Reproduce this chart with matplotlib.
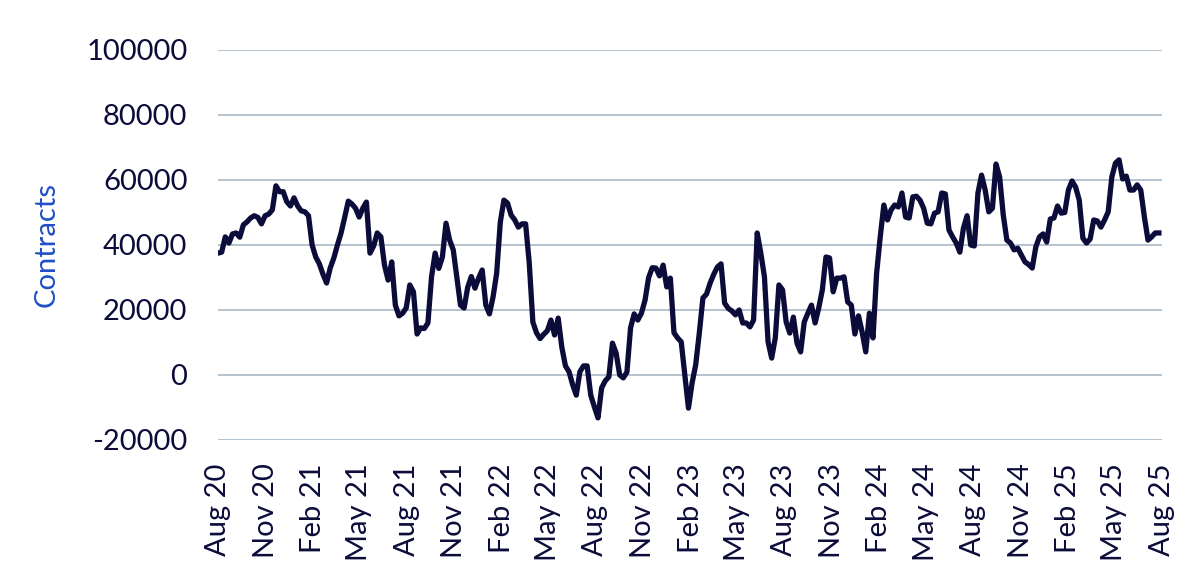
import matplotlib.pyplot as plt
import pandas as pd

# weekly net positions
first_week = "2020-08-04"
contracts = [
    37500, 37800, 42500, 40600, 43400, 43700, 42400, 46200, 47100, 48300,
    49000, 48500, 46500, 49000, 49500, 50800, 58200, 56400, 56400, 53300,
    52000, 54500, 52000, 50500, 50200, 49000, 40000, 36300, 34200, 31000,
    28300, 32900, 36000, 40000, 43700, 48500, 53500, 52600, 51300, 48600,
    51300, 53200, 37500, 39700, 43700, 42500, 33800, 29200, 34800, 21500,
    18200, 19000, 20600, 27700, 25600, 12600, 14500, 14300, 16000, 30200,
    37500, 32800, 36300, 46700, 41500, 38500, 30000, 21500, 20600, 27000,
    30300, 26700, 29800, 32300, 21500, 18800, 24000, 31300, 47000, 53800,
    52900, 49200, 47700, 45500, 46500, 46500, 34500, 16300, 13000, 11200,
    12500, 13600, 16900, 12300, 17500, 8600, 2800, 1000, -3000, -6200,
    1000, 2800, 2800, -6200, -9800, -13200, -4000, -1800, -600, 9800,
    6800, 0, -900, 900, 14500, 18800, 16900, 19000, 23000, 30000,
    33000, 32900, 30500, 33800, 27100, 29800, 13000, 11400, 10200, 0,
    -10200, -2500, 3100, 12900, 23700, 24900, 28300, 31000, 33200, 34200,
    22100, 20500, 19700, 18500, 20000, 16000, 16000, 14800, 16900, 43700,
    37500, 30200, 10200, 5200, 11400, 27700, 26200, 16300, 12900, 17800,
    9800, 7100, 16300, 19000, 21500, 16000, 20600, 26200, 36300, 36000,
    25600, 29800, 29800, 30200, 22500, 21500, 12600, 18200, 13200, 7100,
    19000, 11400, 31300, 42500, 52300, 47700, 50800, 52300, 51700, 56000,
    48600, 48300, 54800, 55000, 53800, 51300, 46700, 46500, 49800, 50200,
    56000, 55700, 44600, 42500, 40600, 37800, 45200, 49000, 40000, 39700,
    56000, 61500, 56900, 50200, 51300, 64900, 60900, 49200, 41500, 40600,
    38500, 39000, 36900, 34800, 34000, 32900, 39400, 42500, 43400, 40900,
    48000, 48300, 52000, 49800, 50000, 56900, 59700, 57800, 53800, 42100,
    40600, 41800, 47700, 47400, 45500, 47700, 50200, 60900, 65200, 66200,
    60300, 61200, 56900, 56900, 58500, 56900, 48600, 41500, 42500, 43700,
    43700,
]
y_ticks = [-20000, 0, 20000, 40000, 60000, 80000, 100000]

dates = pd.date_range(first_week, periods=len(contracts), freq="7D")
tick_dates = pd.date_range(first_week, periods=21, freq=pd.DateOffset(months=3))

navy = "#0c0c3a"
plt.rcParams["font.family"] = ["Lato", "DejaVu Sans"]
plt.rcParams["axes.unicode_minus"] = False

fig = plt.figure(figsize=(12, 5.84), dpi=100)
ax = fig.add_axes([0.1817, 0.2466, 0.7866, 0.6678])

ax.plot(dates, contracts, color=navy, linewidth=3.8, solid_joinstyle="round")

ax.set_ylim(-20000, 100000)
ax.set_yticks(y_ticks)
ax.set_xlim(dates[0], tick_dates[-1])
ax.set_xticks(tick_dates)
ax.set_xticklabels([d.strftime("%b %y") for d in tick_dates], rotation=90)

ax.grid(axis="y", color="#b4c3cf", linewidth=1.4)
ax.set_axisbelow(True)
for s in ax.spines.values():
    s.set_visible(False)
ax.tick_params(axis="both", length=0, labelsize=21, labelcolor=navy)
ax.tick_params(axis="y", pad=22)
ax.tick_params(axis="x", pad=17)

ax.set_ylabel("Contracts", color="#1f4fc4", fontsize=21)
ax.yaxis.set_label_coords(-0.168, 0.5)

fig.savefig("out.png", dpi=100)
plt.close(fig)
